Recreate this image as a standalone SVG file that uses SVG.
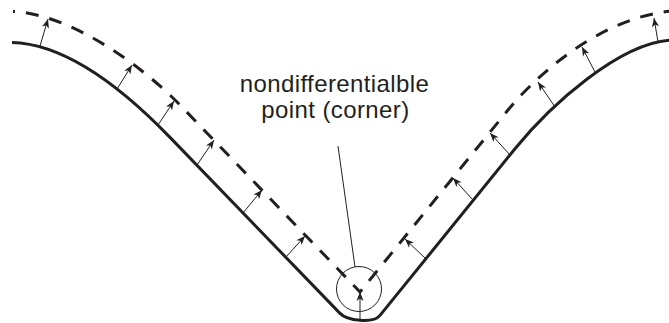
<svg xmlns="http://www.w3.org/2000/svg" width="669" height="323" viewBox="0 0 669 323">
  <style>
    .solid { fill: none; stroke: #231f20; stroke-width: 3; }
    .dashed { fill: none; stroke: #231f20; stroke-width: 3; stroke-dasharray: 13 11; stroke-dashoffset: 11; }
    .arrow { fill: none; stroke: #231f20; stroke-width: 1; marker-end: url(#head); }
    .thin { fill: none; stroke: #231f20; stroke-width: 1; }
    .label { font-family: "Liberation Sans", Arial, sans-serif; font-size: 24px; fill: #231f20; text-anchor: middle; letter-spacing: 0.4px; }
  </style>
  <defs>
    <marker id="head" markerUnits="userSpaceOnUse" markerWidth="10" markerHeight="8" viewBox="-10 -4 10 8" refX="0" refY="0" orient="auto">
      <path d="M0,0 L-9,-3.6 L-6.5,0 L-9,3.6 Z" fill="#231f20"/>
    </marker>
  </defs>
  <rect width="669" height="323" fill="#ffffff"/>
  <g id="curves">
    <path id="original-curve" class="solid" d="M12,42.5 C70,44 130,96 170,137.4 L340,313.4 C347,320.6 373,324 380,315.4 L515,148.8 C550,105.6 620,42 672,40"/>
    <path id="offset-curve" class="dashed" d="M13,11.5 C70,14 140,64 180,105 L360,292 L508,110 C530,83 595,18 672,11"/>
  </g>
  <g id="connectors">
    <line class="arrow" x1="40" y1="46" x2="48" y2="19"/>
    <line class="arrow" x1="117" y1="89" x2="132" y2="65"/>
    <line class="arrow" x1="158" y1="125" x2="174" y2="101"/>
    <line class="arrow" x1="197" y1="165" x2="214" y2="140"/>
    <line class="arrow" x1="243" y1="213" x2="262" y2="190"/>
    <line class="arrow" x1="286" y1="257" x2="305" y2="236"/>
    <line class="arrow" x1="360" y1="321" x2="360" y2="292"/>
    <line class="arrow" x1="425" y1="258" x2="405" y2="239"/>
    <line class="arrow" x1="473" y1="200" x2="453" y2="178"/>
    <line class="arrow" x1="510" y1="155" x2="490" y2="133"/>
    <line class="arrow" x1="555" y1="107" x2="538" y2="82"/>
    <line class="arrow" x1="595" y1="72" x2="582" y2="47"/>
    <line class="arrow" x1="658" y1="42" x2="654" y2="18"/>
    <line id="leader" class="thin" x1="338" y1="146" x2="355" y2="267"/>
  </g>
  <g id="corner">
    <circle class="thin" cx="359" cy="289" r="22.5"/>
  </g>
  <g id="label">
    <text class="label" x="334.5" y="92">nondifferentialble</text>
    <text class="label" x="335.5" y="118">point (corner)</text>
  </g>
</svg>
